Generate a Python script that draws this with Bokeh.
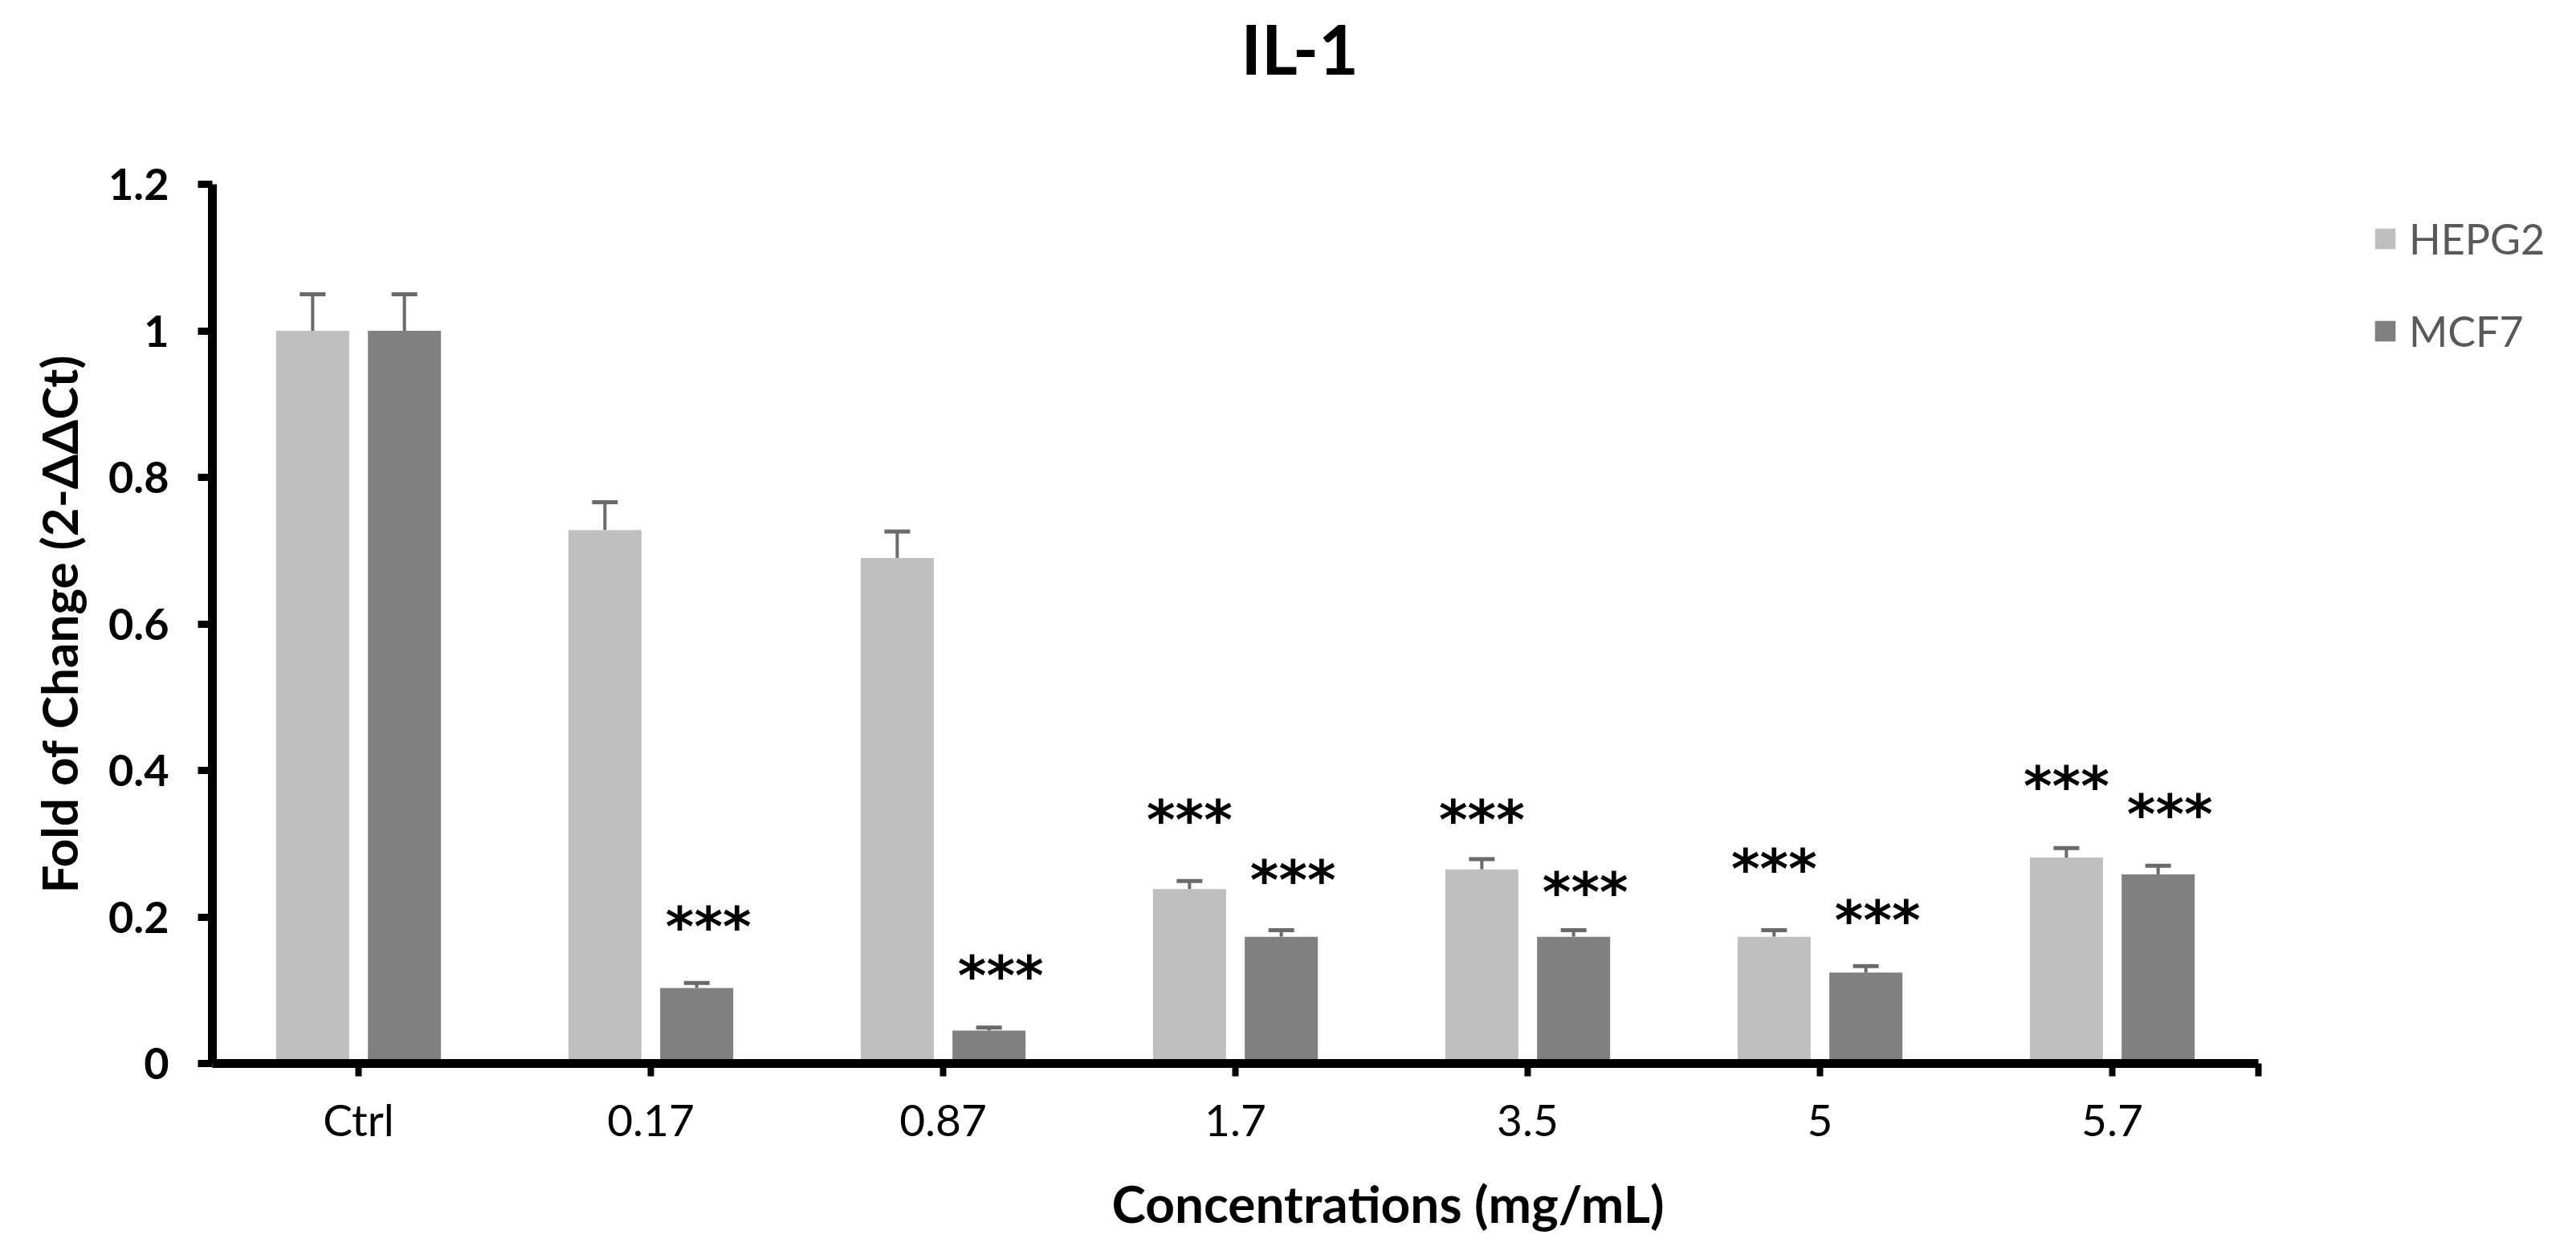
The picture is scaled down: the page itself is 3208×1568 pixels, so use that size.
import numpy as np
from bokeh.plotting import figure
from bokeh.models import (Range1d, FixedTicker, Whisker, TeeHead, ColumnDataSource,
                          Legend, LegendItem, Title)
from bokeh.core.properties import value
from bokeh.embed import file_html
from bokeh.resources import INLINE

# ---------------- data ----------------
categories = ["Ctrl", "0.17", "0.87", "1.7", "3.5", "5", "5.7"]
hepg2 = [1.0, 0.728, 0.690, 0.238, 0.265, 0.173, 0.281]
hepg2_err = [0.05, 0.038, 0.036, 0.011, 0.014, 0.009, 0.013]
mcf7 = [1.0, 0.103, 0.045, 0.173, 0.173, 0.124, 0.258]
mcf7_err = [0.05, 0.007, 0.004, 0.009, 0.009, 0.009, 0.012]
# significance marks ("***") and the height at which each is written
hepg2_sig = ["", "", "", "***", "***", "***", "***"]
hepg2_sig_y = [0, 0, 0, 0.332, 0.332, 0.265, 0.378]
mcf7_sig = ["", "***", "***", "***", "***", "***", "***"]
mcf7_sig_y = [0, 0.186, 0.119, 0.250, 0.233, 0.195, 0.340]
y_ticks = [0, 0.2, 0.4, 0.6, 0.8, 1.0, 1.2]
y_tick_labels = ["0", "0.2", "0.4", "0.6", "0.8", "1", "1.2"]

# ---------------- layout / style ----------------
FONT = "Lato"
C_HEP = "#BFBFBF"
C_MCF = "#808080"
C_ERR = "#6a6a6a"
OFF = 0.157
BW = 0.25
STAR_SHIFT_MCF = 0.04     # the MCF7 marks sit slightly right of their bars

W, H = 3192, 1550
LEFT, TOP, BOTTOM = 264, 229, 226
AXIS_PX = 2548            # pixel length of the category axis
n = len(categories)
x_end = n * (W - LEFT) / AXIS_PX   # frame reaches the right edge; room for legend

centers = np.arange(n) + 0.5
x_h = centers - OFF
x_m = centers + OFF

p = figure(width=W, height=H, output_backend="svg", toolbar_location=None,
           title=None,
           x_range=Range1d(0, x_end), y_range=Range1d(0, 1.2),
           min_border_left=LEFT, min_border_right=0, min_border_top=TOP,
           min_border_bottom=BOTTOM)
p.background_fill_color = "white"
p.border_fill_color = "white"
p.outline_line_color = None
p.grid.visible = False

# bars
r_h = p.vbar(x=x_h, top=hepg2, width=BW, fill_color=C_HEP, line_color=None)
r_m = p.vbar(x=x_m, top=mcf7, width=BW, fill_color=C_MCF, line_color=None)

# error bars (upper only)
for xs, vals, errs in ((x_h, hepg2, hepg2_err), (x_m, mcf7, mcf7_err)):
    src = ColumnDataSource(dict(base=list(xs), lower=list(vals),
                                upper=[v + e for v, e in zip(vals, errs)]))
    w = Whisker(source=src, base="base", lower="lower", upper="upper",
                line_color=C_ERR, line_width=4,
                upper_head=TeeHead(size=32, line_color=C_ERR, line_width=5),
                lower_head=None)
    p.add_layout(w)

# significance stars
for xs, sig, sy, dx in ((x_h, hepg2_sig, hepg2_sig_y, 0.0),
                        (x_m, mcf7_sig, mcf7_sig_y, STAR_SHIFT_MCF)):
    idx = [i for i, s in enumerate(sig) if s]
    p.text(x=[xs[i] + dx for i in idx], y=[sy[i] for i in idx],
           text=[sig[i] for i in idx],
           text_align="center", text_baseline="middle",
           text_font=value("DejaVu Sans"), text_font_style="bold",
           text_font_size="68px", text_color="black")

# title: a thin spacer next to the frame, then the title itself further out
spacer = Title(text=" ", text_font_size="2px", standoff=115)
p.add_layout(spacer, "above")
main_title = Title(text="IL-1", align="left", offset=1281, vertical_align="bottom",
                   standoff=0, text_font=FONT, text_font_style="bold",
                   text_font_size="86px", text_color="black")
p.add_layout(main_title, "above")

# x axis (line limited to the categories)
xa = p.xaxis[0]
xa.bounds = (0, n)
xa.ticker = FixedTicker(ticks=list(centers) + [float(n)])
overrides = {float(c): lab for c, lab in zip(centers, categories)}
overrides[float(n)] = ""
xa.major_label_overrides = overrides
xa.axis_line_width = 11
xa.axis_line_color = "black"
xa.major_tick_line_width = 8
xa.major_tick_out = 16
xa.major_tick_in = 0
xa.minor_tick_line_color = None
xa.major_label_text_font = FONT
xa.major_label_text_font_size = "55px"
xa.major_label_text_color = "black"
xa.major_label_standoff = 20
xa.axis_label = "Concentrations (mg/mL)"
xa.axis_label_text_font = FONT
xa.axis_label_text_font_style = "bold"
xa.axis_label_text_font_size = "64px"
xa.axis_label_text_color = "black"
xa.axis_label_standoff = 30

# y axis
ya = p.yaxis[0]
ya.ticker = FixedTicker(ticks=y_ticks)
ya.major_label_overrides = {float(t): lab for t, lab in zip(y_ticks, y_tick_labels)}
ya.axis_line_width = 11
ya.axis_line_color = "black"
ya.major_tick_line_width = 9
ya.major_tick_out = 18
ya.major_tick_in = 0
ya.minor_tick_line_color = None
ya.major_label_text_font = FONT
ya.major_label_text_font_style = "bold"
ya.major_label_text_font_size = "54px"
ya.major_label_text_color = "black"
ya.major_label_standoff = 36
ya.axis_label = "Fold of Change (2-ΔΔCt)"
ya.axis_label_text_font = FONT
ya.axis_label_text_font_style = "bold"
ya.axis_label_text_font_size = "62px"
ya.axis_label_text_color = "black"
ya.axis_label_standoff = 22

# legend, right of the category axis
legend = Legend(items=[LegendItem(label="HEPG2", renderers=[r_h]),
                       LegendItem(label="MCF7", renderers=[r_m])],
                location=(2690, 881), orientation="vertical",
                padding=0, margin=0, spacing=53,
                glyph_width=32, glyph_height=32, label_height=62,
                label_standoff=14,
                label_text_font=FONT, label_text_font_size="52px",
                label_text_color="#595959",
                border_line_color=None, background_fill_alpha=0)
p.add_layout(legend, "center")

open("out.html", "w").write(file_html(p, INLINE))
